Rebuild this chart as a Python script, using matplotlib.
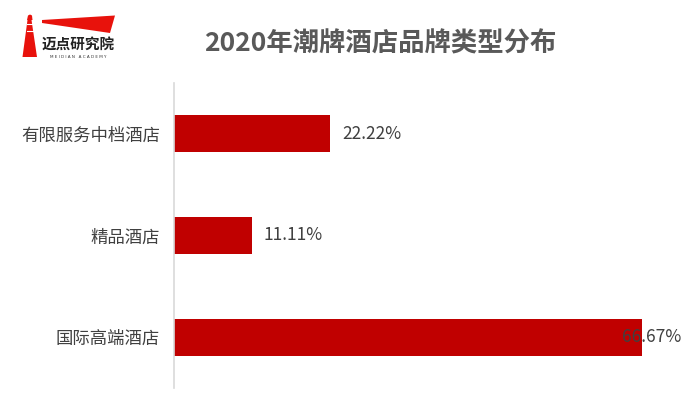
import matplotlib
matplotlib.use("Agg")
import matplotlib.pyplot as plt
from matplotlib.patches import Polygon

plt.rcParams['font.family'] = ['Noto Sans CJK SC', 'DejaVu Sans']

categories = ['国际高端酒店', '精品酒店', '有限服务中档酒店']
values = [66.67, 11.11, 22.22]
value_labels = ['66.67%', '11.11%', '22.22%']
title = '2020年潮牌酒店品牌类型分布'

W, H = 700, 394
fig = plt.figure(figsize=(W / 100, H / 100), dpi=100)
fig.patch.set_facecolor('white')

# main axes
left, right, top, bottom = 174, 665, 83, 388
ax = fig.add_axes([left / W, 1 - bottom / H, (right - left) / W, (bottom - top) / H])
ypos = list(range(len(categories)))
ax.barh(ypos, values, height=0.365, color='#C00000', zorder=2)
ax.set_xlim(0, 70)
ax.set_ylim(-0.5, len(categories) - 0.5)
ax.set_yticks(ypos)
ax.set_yticklabels(categories, fontsize=12.5, color='#404040')
ax.tick_params(axis='y', length=0, pad=10)
ax.set_xticks([])
for s in ['top', 'right', 'bottom']:
    ax.spines[s].set_visible(False)
ax.spines['left'].set_color('#D9D9D9')
ax.spines['left'].set_linewidth(1.2)

for y, v, lab in zip(ypos, values, value_labels):
    off = 12 if v < 60 else -20
    ax.annotate(lab, xy=(v, y), xytext=(off, 0), textcoords='offset pixels',
                ha='left', va='center', fontsize=12.5, color='#404040',
                annotation_clip=False, zorder=3)

# overlay for title and logo
ov = fig.add_axes([0, 0, 1, 1], zorder=-1)
ov.set_xlim(0, W)
ov.set_ylim(H, 0)
ov.axis('off')
ov.text(380, 44, title, ha='center', va='center', fontsize=19,
        fontweight='bold', color='#595959')

# logo: lighthouse
ov.add_patch(Polygon([(27.5, 20), (31.5, 20), (37, 57), (22.5, 57)], closed=True,
                     color='#E8120C', lw=0))
ov.add_patch(Polygon([(27, 20), (28, 15.5), (30, 14.5), (32, 15.5), (32.5, 20)],
                     closed=True, color='#E8120C', lw=0))
for yy in (24, 31):
    ov.plot([26.5, 33], [yy, yy], color='white', lw=0.8)
# swoosh
ov.add_patch(Polygon([(42, 20), (115, 15.5), (110, 33), (42, 23)], closed=True,
                     color='#E8120C', lw=0))
ov.text(78.5, 45, '迈点研究院', ha='center', va='center', fontsize=10.5,
        fontweight='bold', color='#222222')
ov.text(78.5, 56.5, 'M E I D I A N   A C A D E M Y', ha='center', va='center',
        fontsize=3, color='#333333', family='DejaVu Sans')

fig.savefig('out.png', dpi=100, facecolor='white')
